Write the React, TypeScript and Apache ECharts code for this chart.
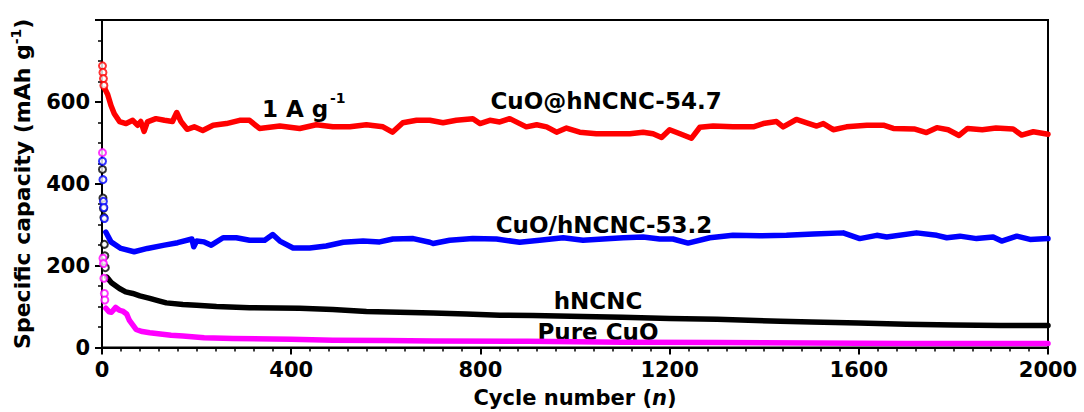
import React, { useEffect, useRef } from "react";
import * as echarts from "echarts";

const FONT = '"DejaVu Sans", "Liberation Sans", Arial, sans-serif';

// axis ticks
const xTickValues = [0, 400, 800, 1200, 1600, 2000];
const yTickValues = [0, 200, 400, 600, 800];
const yLabelledTicks = [0, 200, 400, 600];

// series names / annotations
const labels = {
  red: "CuO@hNCNC-54.7",
  blue: "CuO/hNCNC-53.2",
  black: "hNCNC",
  magenta: "Pure CuO",
};

// [cycle, capacity (mAh g-1)] -- first, sparse cycles
const redFirst = [[1, 688], [2, 672], [3, 657], [4, 640]];
const blueFirst = [[1, 455], [2, 410], [3, 357], [4, 342], [5, 315]];
const blackFirst = [[1, 435], [2, 365], [3, 340], [4, 318], [5, 252], [6, 224], [7, 195]];
const magentaFirst = [[1, 476], [2, 218], [3, 205], [4, 169], [5, 132], [6, 116]];

// dense cycles
const redCurve = [
  [6, 632], [12, 618], [19, 591], [26, 571], [37, 552], [51, 547], [65, 555], [75, 543], [82, 552],
  [89, 528], [96, 551], [114, 559], [132, 555], [149, 552], [158, 574], [167, 552], [180, 533],
  [195, 539], [213, 530], [235, 543], [263, 547], [291, 555], [312, 555], [333, 535], [376, 541],
  [418, 535], [453, 544], [488, 539], [524, 539], [559, 544], [594, 539], [614, 526], [636, 549],
  [665, 555], [693, 555], [721, 549], [749, 555], [784, 559], [799, 547], [820, 555], [841, 551],
  [862, 559], [897, 539], [919, 544], [940, 539], [961, 526], [982, 536], [1010, 526], [1045, 522],
  [1081, 522], [1116, 522], [1144, 526], [1165, 522], [1183, 513], [1200, 532], [1222, 522],
  [1246, 511], [1264, 538], [1292, 541], [1334, 539], [1377, 539], [1398, 547], [1426, 552],
  [1440, 539], [1468, 557], [1490, 549], [1511, 541], [1525, 547], [1546, 532], [1574, 539],
  [1617, 543], [1652, 543], [1673, 535], [1717, 534], [1743, 525], [1765, 537], [1789, 532],
  [1812, 518], [1830, 535], [1861, 532], [1890, 536], [1926, 534], [1944, 519], [1969, 527],
  [2000, 521],
];

const blueCurve = [
  [8, 282], [19, 258], [40, 242], [68, 234], [96, 242], [132, 250], [160, 256], [190, 265],
  [194, 246], [200, 260], [216, 258], [231, 250], [256, 268], [284, 268], [312, 262], [344, 262],
  [361, 276], [376, 260], [404, 243], [439, 243], [474, 248], [510, 257], [552, 260], [587, 258],
  [615, 265], [658, 266], [693, 257], [700, 254], [735, 262], [784, 266], [834, 265], [883, 257],
  [925, 262], [975, 268], [1017, 262], [1059, 265], [1102, 268], [1144, 270], [1179, 265],
  [1207, 265], [1239, 255], [1285, 268], [1334, 274], [1391, 273], [1447, 274], [1504, 277],
  [1567, 280], [1602, 266], [1638, 274], [1659, 270], [1722, 280], [1765, 274], [1786, 268],
  [1814, 272], [1849, 266], [1884, 270], [1902, 260], [1934, 272], [1962, 264], [2000, 266],
];

const blackCurve = [
  [10, 172], [20, 158], [37, 144], [50, 136], [65, 132], [80, 126], [101, 120], [120, 114],
  [136, 109], [171, 105], [200, 103], [242, 100], [312, 97], [418, 96], [488, 93], [559, 88],
  [629, 86], [700, 84], [770, 82], [841, 79], [911, 78], [1017, 76], [1100, 74], [1200, 71],
  [1300, 69], [1434, 64], [1500, 62], [1600, 60], [1700, 57], [1800, 55], [1900, 54], [2000, 54],
];

const magentaCurve = [
  [8, 96], [15, 87], [20, 86], [29, 98], [37, 91], [45, 88], [52, 82], [58, 66], [65, 55],
  [72, 44], [85, 39], [101, 36], [146, 30], [171, 28], [216, 24], [277, 22], [400, 20], [488, 18],
  [600, 17], [700, 16], [900, 15], [1100, 13], [1300, 12], [1500, 11], [1700, 10], [2000, 10],
];

const COLORS = { red: "#ff0000", blue: "#0000ff", black: "#000000", magenta: "#ff00ff" };

function curve(name: string, data: number[][], color: string, z: number) {
  return {
    name,
    type: "line",
    data,
    showSymbol: false,
    symbol: "none",
    smooth: false,
    z,
    lineStyle: { color, width: 5.5, cap: "round", join: "round" },
  };
}

function first(name: string, data: number[][], color: string, z: number) {
  return {
    name: name + "-first",
    type: "scatter",
    data,
    symbol: "emptyCircle",
    symbolSize: 7,
    z,
    itemStyle: { color, borderColor: color, borderWidth: 2.2 },
  };
}

export default function App() {
  const ref = useRef<HTMLDivElement>(null);
  useEffect(() => {
    if (!ref.current) return;
    const chart = echarts.init(ref.current, undefined, { renderer: "svg" });
    const axisText = { color: "#000", fontFamily: FONT, fontWeight: "bold", fontSize: 21 };
    chart.setOption({
      animation: false,
      backgroundColor: "#fff",
      grid: {
        left: 102,
        right: 36,
        top: 20,
        bottom: 64.5,
        show: true,
        borderColor: "#000",
        borderWidth: 2,
        outerBoundsMode: "none",
      },
      xAxis: {
        type: "value",
        min: xTickValues[0],
        max: xTickValues[xTickValues.length - 1],
        interval: xTickValues[1] - xTickValues[0],
        name: "Cycle number ({i|n})",
        nameLocation: "middle",
        nameGap: 40,
        nameTextStyle: {
          ...axisText,
          fontSize: 21,
          rich: {
            i: { ...axisText, fontSize: 21, fontStyle: "italic" },
          },
        },
        axisLine: { show: true, lineStyle: { color: "#000", width: 2 } },
        axisTick: { show: true, inside: false, length: 7, lineStyle: { color: "#000", width: 2 } },
        minorTick: { show: true, splitNumber: 10, length: 4, lineStyle: { color: "#000", width: 1.5 } },
        splitLine: { show: false },
        axisLabel: { ...axisText, margin: 12, formatter: (v: number) => String(v) },
      },
      yAxis: {
        type: "value",
        min: yTickValues[0],
        max: yTickValues[yTickValues.length - 1],
        interval: yTickValues[1] - yTickValues[0],
        name: "Specific capacity (mAh g{sup|-1})",
        nameLocation: "middle",
        nameGap: 62,
        nameTextStyle: {
          ...axisText,
          fontSize: 22,
          lineHeight: 26,
          rich: {
            sup: { ...axisText, fontSize: 14, verticalAlign: "top", lineHeight: 14 },
          },
        },
        axisLine: { show: true, lineStyle: { color: "#000", width: 2 } },
        axisTick: { show: true, inside: false, length: 7, lineStyle: { color: "#000", width: 2 } },
        minorTick: { show: true, splitNumber: 4, length: 4, lineStyle: { color: "#000", width: 1.5 } },
        splitLine: { show: false },
        axisLabel: {
          ...axisText,
          margin: 12,
          formatter: (v: number) => (yLabelledTicks.includes(v) ? String(v) : ""),
        },
      },
      graphic: [
        {
          type: "text",
          x: 262,
          y: 108.5,
          style: { text: "1 A g", fill: "#000", font: `bold 23px ${FONT}`, align: "left", verticalAlign: "middle" },
        },
        {
          type: "text",
          x: 330,
          y: 98,
          style: { text: "-1", fill: "#000", font: `bold 14px ${FONT}`, align: "left", verticalAlign: "middle" },
        },
        {
          type: "text",
          x: 606,
          y: 101,
          style: { text: labels.red, fill: "#000", font: `bold 23px ${FONT}`, align: "center", verticalAlign: "middle" },
        },
        {
          type: "text",
          x: 604,
          y: 225,
          style: { text: labels.blue, fill: "#000", font: `bold 23px ${FONT}`, align: "center", verticalAlign: "middle" },
        },
        {
          type: "text",
          x: 598,
          y: 301,
          style: { text: labels.black, fill: "#000", font: `bold 23px ${FONT}`, align: "center", verticalAlign: "middle" },
        },
        {
          type: "text",
          x: 598,
          y: 332,
          style: { text: labels.magenta, fill: "#000", font: `bold 23px ${FONT}`, align: "center", verticalAlign: "middle" },
        },
      ],
      series: [
        curve(labels.black, blackCurve, COLORS.black, 2),
        first(labels.black, blackFirst, COLORS.black, 2),
        curve(labels.magenta, magentaCurve, COLORS.magenta, 3),
        first(labels.magenta, magentaFirst, COLORS.magenta, 3),
        curve(labels.blue, blueCurve, COLORS.blue, 4),
        first(labels.blue, blueFirst, COLORS.blue, 4),
        curve(labels.red, redCurve, COLORS.red, 5),
        first(labels.red, redFirst, COLORS.red, 5),
      ],
    });
    return () => chart.dispose();
  }, []);
  return (
    <div
      ref={ref}
      style={{ position: "fixed", left: 0, top: 0, width: 1084, height: 412, background: "#fff" }}
    />
  );
}
